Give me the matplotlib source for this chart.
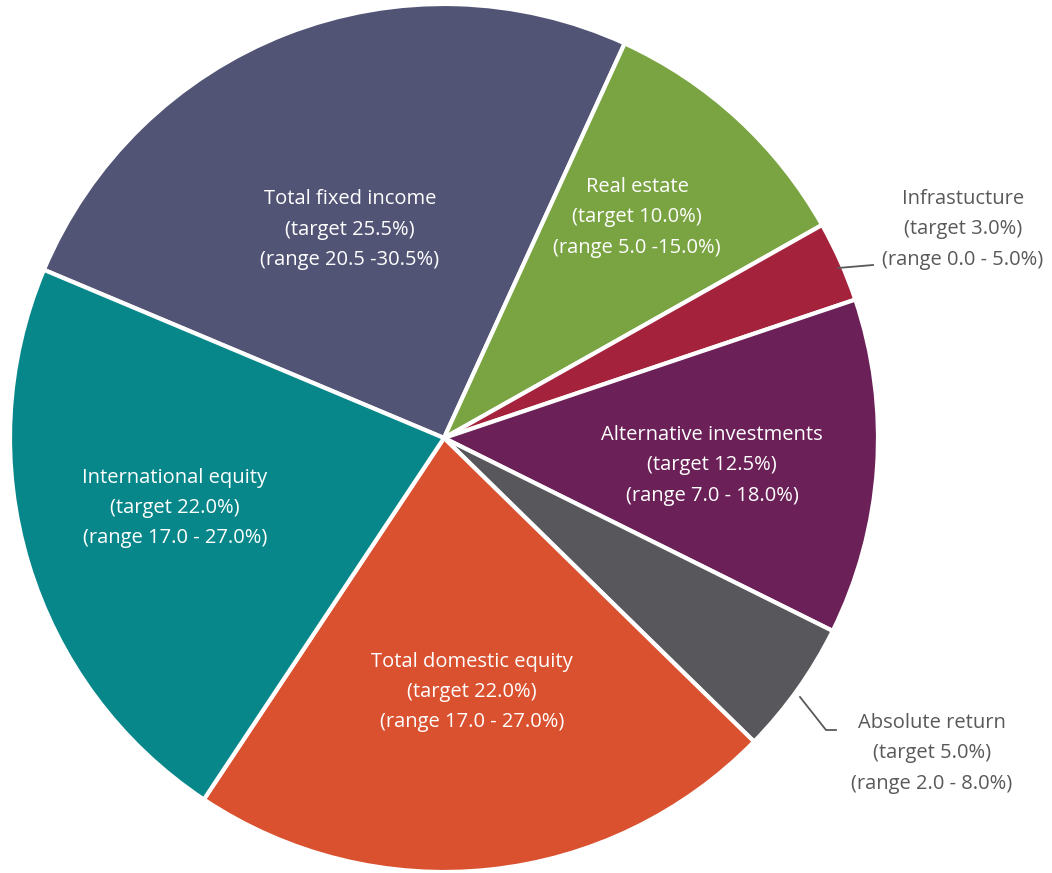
import matplotlib.pyplot as plt

# data, clockwise from the top-left slice
categories = ["Total fixed income", "Real estate", "Infrastucture",
              "Alternative investments", "Absolute return",
              "Total domestic equity", "International equity"]
targets = [25.5, 10.0, 3.0, 12.5, 5.0, 22.0, 22.0]
ranges = ["20.5 -30.5%", "5.0 -15.0%", "0.0 - 5.0%", "7.0 - 18.0%",
          "2.0 - 8.0%", "17.0 - 27.0%", "17.0 - 27.0%"]
colors = ["#525476", "#7AA442", "#A5223C", "#6B2158", "#58575B",
          "#DA5130", "#07878A"]

W, H = 1052, 873
fig = plt.figure(figsize=(W / 100, H / 100), dpi=100)
ax = fig.add_axes([0, 0, 1, 1])

cx, cy, r = 444, H - 438, 434
ax.pie(targets, colors=colors, startangle=157.2, counterclock=False,
       center=(cx, cy), radius=r, frame=True,
       wedgeprops=dict(edgecolor="white", linewidth=3))
ax.set_xlim(0, W)
ax.set_ylim(0, H)
ax.set_aspect("equal")
ax.axis("off")

# label centres in pixel coords (x, y from top)
label_pos = [(350, 230), (637, 217), (963, 229), (712, 465),
             (932, 753), (472, 692), (175, 508)]
outside = {"Infrastucture", "Absolute return"}

for name, t, rg, (px, py) in zip(categories, targets, ranges, label_pos):
    col = "#595959" if name in outside else "white"
    txt = f"{name}\n(target {t:.1f}%)\n(range {rg})"
    ax.text(px, H - py, txt, ha="center", va="center", color=col,
            fontsize=14.5, family="Open Sans", linespacing=1.7)

# leader lines
ax.plot([838, 873], [H - 268, H - 265], color="#595959", lw=1.3)
ax.plot([800, 826, 836], [H - 697, H - 730, H - 730], color="#595959", lw=1.3)

fig.savefig("out.png", dpi=100)
